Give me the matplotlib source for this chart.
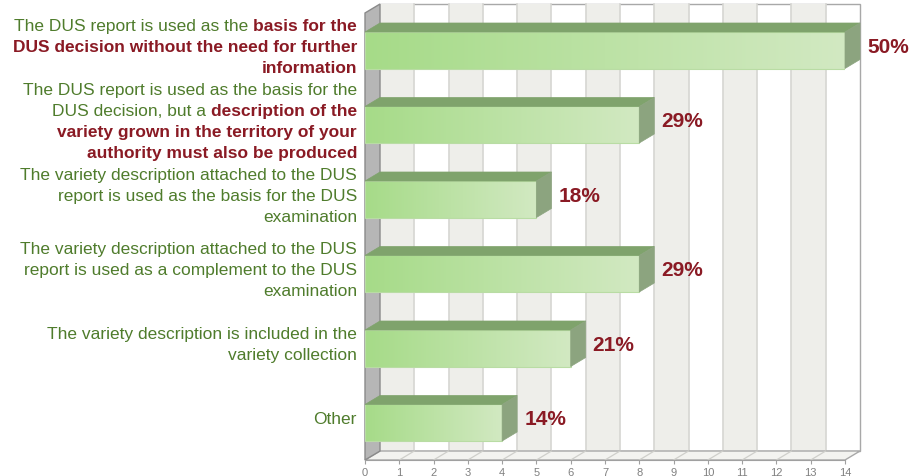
import numpy as np
import matplotlib
matplotlib.use('Agg')
import matplotlib.pyplot as plt
from matplotlib.patches import Polygon, Rectangle
from matplotlib.colors import LinearSegmentedColormap
from matplotlib.transforms import IdentityTransform

# Answers (number of authorities) and the shares shown next to the bars
counts = [14, 8, 5, 8, 6, 4]
percents = [50, 29, 18, 29, 21, 14]

# Category labels, one string per line; text after "|" is the highlighted part
labels = [
    ["The DUS report is used as the |basis for the",
     "|DUS decision without the need for further",
     "|information"],
    ["The DUS report is used as the basis for the",
     "DUS decision, but a |description of the",
     "|variety grown in the territory of your",
     "|authority must also be produced"],
    ["The variety description attached to the DUS",
     "report is used as the basis for the DUS",
     "examination"],
    ["The variety description attached to the DUS",
     "report is used as a complement to the DUS",
     "examination"],
    ["The variety description is included in the",
     "variety collection"],
    ["Other"],
]

x_ticks = list(range(15))

GREEN_TEXT = '#4f7c2c'
RED_TEXT = '#8a1a24'
FONT = 'Liberation Sans'

# 3D depth of the chart, in pixels
DEPTH_X = 15
DEPTH_Y = 9

W, H = 914, 477
fig = plt.figure(figsize=(W / 100, H / 100), dpi=100)
fig.patch.set_facecolor('white')
ax = fig.add_axes([365 / W, 16 / H, 480 / W, 447 / H])
ax.set_xlim(0, 14)
ax.set_ylim(5.5, -0.5)

# convert depth from pixels into data units
p0 = ax.transData.transform((0, 0))
p1 = ax.transData.transform((1, 1))
dx = DEPTH_X / (p1[0] - p0[0])
dy = DEPTH_Y / (p1[1] - p0[1])

ymin, ymax = -0.5, 5.5
xmax = 14

# back wall with alternating columns
ax.add_patch(Rectangle((dx, ymin + dy), xmax, ymax - ymin, fc='white',
                       ec='#a8a8a8', lw=1, clip_on=False, zorder=1))
for k in range(0, xmax, 2):
    ax.add_patch(Rectangle((k + dx, ymin + dy), 1, ymax - ymin, fc='#eeeeea',
                           ec='none', clip_on=False, zorder=1))
for k in range(1, xmax):
    ax.plot([k + dx, k + dx], [ymin + dy, ymax + dy], color='#d6d6d2', lw=1.2,
            clip_on=False, zorder=1.1)

# floor
ax.add_patch(Polygon([(0, ymax), (xmax, ymax), (xmax + dx, ymax + dy), (dx, ymax + dy)],
                     closed=True, fc='#f3f3f0', ec='#a8a8a8', lw=1, clip_on=False, zorder=1.2))
for k in range(1, xmax):
    ax.plot([k, k + dx], [ymax, ymax + dy], color='#cfcfcb', lw=0.9, clip_on=False, zorder=1.3)

# left wall
ax.add_patch(Polygon([(0, ymin), (0, ymax), (dx, ymax + dy), (dx, ymin + dy)],
                     closed=True, fc='#b6b6b6', ec='#8a8a8a', lw=1, clip_on=False, zorder=1.4))

# bars
bar_h = 0.49
cmap = LinearSegmentedColormap.from_list('bar', ['#a6db88', '#d2e9c2'])
grad = np.linspace(0, 1, 256).reshape(1, -1)
for i, v in enumerate(counts):
    y0, y1 = i - bar_h / 2, i + bar_h / 2
    ax.imshow(grad, cmap=cmap, extent=(0, v, y1, y0), aspect='auto',
              interpolation='bilinear', zorder=3)
    ax.add_patch(Rectangle((0, y0), v, bar_h, fc='none', ec='#b9dca4', lw=0.8, zorder=3.1))
    ax.add_patch(Polygon([(0, y0), (v, y0), (v + dx, y0 + dy), (dx, y0 + dy)],
                         closed=True, fc='#7fa36c', ec='#7fa36c', lw=0.5,
                         clip_on=False, zorder=3.2))
    ax.add_patch(Polygon([(v, y0), (v, y1), (v + dx, y1 + dy), (v + dx, y0 + dy)],
                         closed=True, fc='#8ca47f', ec='#8ca47f', lw=0.5,
                         clip_on=False, zorder=3.2))
    ax.annotate(f'{percents[i]}%', xy=(v, i), xytext=(DEPTH_X + 7, 4),
                textcoords='offset pixels', ha='left', va='center',
                fontsize=15, fontweight='bold', color=RED_TEXT, family=FONT,
                annotation_clip=False, zorder=4)

ax.set_xlim(0, 14)
ax.set_ylim(5.5, -0.5)

# axis: only the bottom edge with small ticks
for side in ['top', 'left', 'right']:
    ax.spines[side].set_visible(False)
ax.spines['bottom'].set_color('#a0a0a0')
ax.set_xticks(x_ticks)
ax.set_xticklabels([str(t) for t in x_ticks], family=FONT)
ax.tick_params(axis='x', length=3, color='#a0a0a0', labelcolor='#808080',
               labelsize=8, pad=2)
ax.set_yticks([])
ax.patch.set_visible(False)

# category labels, right aligned, with highlighted parts in red bold
fig.canvas.draw()
renderer = fig.canvas.get_renderer()


def text_width(s, weight):
    t = fig.text(0, 0, s, fontsize=12.5, fontweight=weight, family=FONT)
    w = t.get_window_extent(renderer).width
    t.remove()
    return w


space_w = text_width('a a', 'normal') - text_width('aa', 'normal')
LINE_GAP = 21

for i, lines in enumerate(labels):
    cx, cy = ax.transData.transform((0, i))
    right_x = cx - 8
    centre = cy + 5
    first = centre + (len(lines) - 1) / 2 * LINE_GAP
    for k, line in enumerate(lines):
        baseline = first - k * LINE_GAP - 5.5
        parts = line.split('|')
        segs = [(p, j % 2 == 1) for j, p in enumerate(parts) if p]
        x = right_x
        for j in range(len(segs) - 1, -1, -1):
            s, red = segs[j]
            weight = 'bold' if red else 'normal'
            fig.text(x, baseline, s.strip(), ha='right', va='baseline',
                     transform=IdentityTransform(), fontsize=12.5,
                     fontweight=weight, family=FONT,
                     color=RED_TEXT if red else GREEN_TEXT)
            x -= text_width(s.strip(), weight)
            if j > 0 and (s.startswith(' ') or segs[j - 1][0].endswith(' ')):
                x -= space_w

fig.savefig('out.png', dpi=100, facecolor='white')
